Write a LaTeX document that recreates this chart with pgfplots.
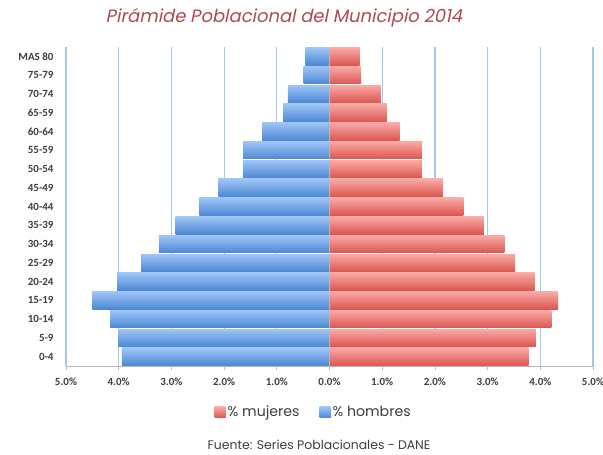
\documentclass[border=0pt]{standalone}
\usepackage{fontspec}
\setmainfont{Poppins}
\newfontfamily\calfont{Carlito}
\newfontfamily\titlefont[FakeSlant=0.2]{Poppins}
\usepackage{pgfplots}
\pgfplotsset{compat=1.18}
\definecolor{gridblue}{RGB}{165,200,232}
\definecolor{axgray}{RGB}{185,185,185}
\definecolor{labgray}{RGB}{64,60,58}
\definecolor{titlered}{RGB}{172,74,80}
\definecolor{bluetop}{RGB}{158,197,246}
\definecolor{bluebot}{RGB}{76,136,212}
\definecolor{redtop}{RGB}{250,170,166}
\definecolor{redbot}{RGB}{220,86,80}
\pgfplotsset{
  mbar/.style={draw=none, fill=redbot, top color=redtop, bottom color=redbot},
  hbar/.style={draw=none, fill=bluebot, top color=bluetop, bottom color=bluebot},
}
\begin{document}
\begin{tikzpicture}
\useasboundingbox (0,0) rectangle (603bp,455bp);
\begin{axis}[
  at={(66bp,89bp)}, anchor=south west,
  scale only axis, width=527bp, height=319bp,
  xbar, bar width=17.5bp, bar shift=0pt,
  xmin=-5, xmax=5, ymin=-0.5, ymax=16.5,
  xtick={-5,-4,-3,-2,-1,0,1,2,3,4,5},
  xticklabels={5.0\%,4.0\%,3.0\%,2.0\%,1.0\%,0.0\%,1.0\%,2.0\%,3.0\%,4.0\%,5.0\%},
  ytick={0,...,16},
  yticklabels={0-4,5-9,10-14,15-19,20-24,25-29,30-34,35-39,40-44,45-49,50-54,55-59,60-64,65-59,70-74,75-79,MAS 80},
  axis x line*=bottom, axis y line*=left,
  x axis line style={draw=axgray, line width=0.8bp, -},
  y axis line style={draw=none},
  ytick style={draw=none},
  xtick style={draw=axgray, line width=0.8bp},
  tick align=outside, major tick length=4bp,
  xmajorgrids, grid style={draw=gridblue, line width=1.2bp},
  tick label style={font=\calfont\bfseries\fontsize{11}{13}\selectfont, text=labgray},
  xticklabel style={yshift=-4bp},
  yticklabel style={xshift=-5bp},
  legend style={at={(0.47,-0.145)}, anchor=center, draw=none, fill=none,
    legend columns=2, font=\fontsize{14.2}{16}\selectfont, text=labgray,
    /tikz/every even column/.append style={column sep=18bp}},
  legend image code/.code={\fill[#1] (0bp,-5.5bp) rectangle (11bp,5.5bp);},
]
% mujeres
\addplot[mbar] coordinates {(3.78,0)};
\addlegendentry{\% mujeres}
\addplot[mbar, forget plot] coordinates {(3.91,1)};
\addplot[mbar, forget plot] coordinates {(4.21,2)};
\addplot[mbar, forget plot] coordinates {(4.34,3)};
\addplot[mbar, forget plot] coordinates {(3.89,4)};
\addplot[mbar, forget plot] coordinates {(3.52,5)};
\addplot[mbar, forget plot] coordinates {(3.32,6)};
\addplot[mbar, forget plot] coordinates {(2.93,7)};
\addplot[mbar, forget plot] coordinates {(2.54,8)};
\addplot[mbar, forget plot] coordinates {(2.15,9)};
\addplot[mbar, forget plot] coordinates {(1.75,10)};
\addplot[mbar, forget plot] coordinates {(1.75,11)};
\addplot[mbar, forget plot] coordinates {(1.33,12)};
\addplot[mbar, forget plot] coordinates {(1.09,13)};
\addplot[mbar, forget plot] coordinates {(0.97,14)};
\addplot[mbar, forget plot] coordinates {(0.60,15)};
\addplot[mbar, forget plot] coordinates {(0.57,16)};
% hombres
\addplot[hbar] coordinates {(-3.94,0)};
\addlegendentry{\% hombres}
\addplot[hbar, forget plot] coordinates {(-4.01,1)};
\addplot[hbar, forget plot] coordinates {(-4.16,2)};
\addplot[hbar, forget plot] coordinates {(-4.50,3)};
\addplot[hbar, forget plot] coordinates {(-4.03,4)};
\addplot[hbar, forget plot] coordinates {(-3.57,5)};
\addplot[hbar, forget plot] coordinates {(-3.24,6)};
\addplot[hbar, forget plot] coordinates {(-2.92,7)};
\addplot[hbar, forget plot] coordinates {(-2.47,8)};
\addplot[hbar, forget plot] coordinates {(-2.11,9)};
\addplot[hbar, forget plot] coordinates {(-1.64,10)};
\addplot[hbar, forget plot] coordinates {(-1.64,11)};
\addplot[hbar, forget plot] coordinates {(-1.28,12)};
\addplot[hbar, forget plot] coordinates {(-0.88,13)};
\addplot[hbar, forget plot] coordinates {(-0.79,14)};
\addplot[hbar, forget plot] coordinates {(-0.49,15)};
\addplot[hbar, forget plot] coordinates {(-0.46,16)};
\draw[axgray, line width=1.2bp] (axis cs:0,-0.5) -- (axis cs:0,16.5);
\end{axis}
\node[font=\titlefont\fontsize{18}{20}\selectfont, text=titlered] at (284bp,437bp) {Pirámide Poblacional del Municipio 2014};
\node[font=\fontsize{12.5}{14}\selectfont, text=labgray] at (319bp,10bp) {Fuente: Series Poblacionales - DANE};
\end{tikzpicture}
\end{document}
